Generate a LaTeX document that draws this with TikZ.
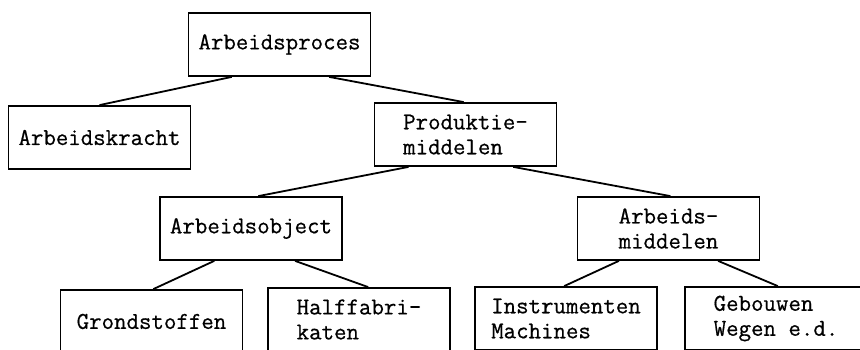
\documentclass[tikz,border=0pt]{standalone}
\usepackage{fontspec}
\newfontfamily\schrijf[FakeBold=0.6]{Latin Modern Mono}
\usetikzlibrary{calc}
\begin{document}
\begin{tikzpicture}[x=1pt, y=-1pt, line width=1.8pt,
    blok/.style={rectangle, draw=black, fill=white, minimum width=182pt, minimum height=63pt, align=left, font=\schrijf\fontsize{24.2}{25}\selectfont}]
        \useasboundingbox (0,0) rectangle (860,350);
        \clip (0,0) rectangle (860,350);
        % Top level
        \node [blok] (proces) at (279.5,44.5) {Arbeidsproces};
        % Second level
        \node [blok] (kracht) at (99.5,137.5) {Arbeidskracht};
        \node [blok] (produktie) at (465.5,134.5) {Produktie-\\middelen};
        % Third level
        \node [blok] (object) at (251,228.5) {Arbeidsobject};
        \node [blok] (middelen) at (668.5,228.5) {Arbeids-\\middelen};
        % Bottom level
        \node [blok] (grond) at (151.5,321.5) {Grondstoffen};
        \node [blok] (half) at (359,319.5) {Halffabri-\\katen};
        \node [blok] (instr) at (566,318.5) {Instrumenten\\Machines};
        \node [blok] (gebouw) at (776,318.5) {Gebouwen\\Wegen e.d.};
        % Connect parents to children
        \foreach \a/\f/\b/\g in {proces/.24/kracht/.5, proces/.77/produktie/.49, produktie/.19/object/.54, produktie/.76/middelen/.51, object/.30/grond/.51, object/.74/half/.55, middelen/.23/instr/.49, middelen/.77/gebouw/.51}
            \draw ($(\a.south west)!\f!(\a.south east)$) -- ($(\b.north west)!\g!(\b.north east)$);
    \end{tikzpicture}
\end{document}
